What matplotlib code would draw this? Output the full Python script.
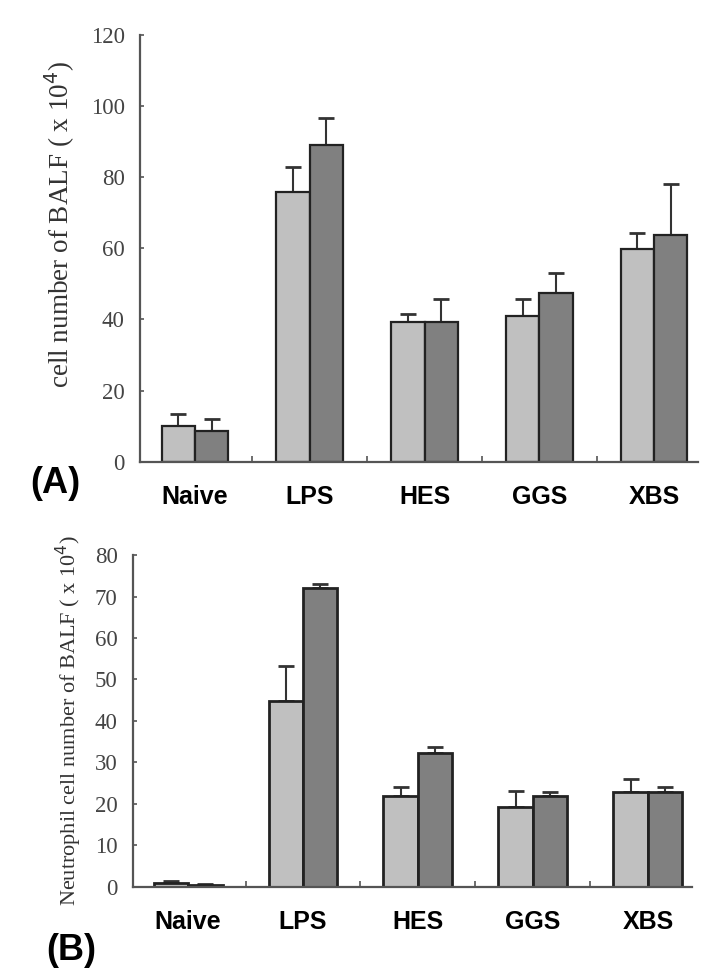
import matplotlib.pyplot as plt
import numpy as np

# Dữ liệu
groups = ['Naive', 'LPS', 'HES', 'GGS', 'XBS']

# (A) tổng số tế bào
a_light = [10.0, 75.8, 39.2, 41.0, 59.7]
a_light_err = [3.3, 7.0, 2.2, 4.7, 4.5]
a_dark = [8.6, 89.1, 39.2, 47.4, 63.9]
a_dark_err = [3.5, 7.7, 6.5, 5.6, 14.1]

# (B) bạch cầu trung tính
b_light = [0.8, 44.8, 22.0, 19.3, 22.9]
b_light_err = [0.6, 8.5, 2.1, 3.9, 3.0]
b_dark = [0.5, 72.0, 32.2, 22.0, 22.9]
b_dark_err = [0.1, 1.0, 1.6, 0.9, 1.2]

light_color = '#c0c0c0'
dark_color = '#808080'
axis_color = '#555555'

fig = plt.figure(figsize=(7.25, 9.74), dpi=100)
ax1 = fig.add_axes([0.1931, 0.526, 0.7697, 0.438])
ax2 = fig.add_axes([0.1834, 0.0896, 0.771, 0.3405])

x = np.arange(len(groups))


def draw_panel(ax, light, light_err, dark, dark_err, width, lw, ylim, yticks,
               ylabel, ylabel_size, tick_size):
    ax.bar(x - width / 2, light, width, color=light_color, edgecolor='#222222',
           linewidth=lw, zorder=2)
    ax.bar(x + width / 2, dark, width, color=dark_color, edgecolor='#222222',
           linewidth=lw, zorder=2)
    ax.errorbar(x - width / 2, light, yerr=[np.zeros(len(light)), light_err],
                fmt='none', ecolor='#333333', elinewidth=1.5, capsize=6,
                capthick=2, zorder=1)
    ax.errorbar(x + width / 2, dark, yerr=[np.zeros(len(dark)), dark_err],
                fmt='none', ecolor='#333333', elinewidth=1.5, capsize=6,
                capthick=2, zorder=1)
    ax.set_xlim(-0.479, 4.383)
    ax.set_ylim(*ylim)
    ax.set_yticks(yticks)
    ax.set_yticklabels([str(t) for t in yticks], family='Liberation Serif',
                       fontsize=tick_size, color='#444444')
    ax.tick_params(axis='y', direction='in', length=3, width=1.2,
                   color=axis_color, pad=11)
    # vạch chia giữa các nhóm
    ax.set_xticks(x[:-1] + 0.5)
    ax.set_xticklabels([])
    ax.tick_params(axis='x', which='major', direction='in', length=4,
                   width=1.2, color=axis_color)
    ax.set_xticks(x, minor=True)
    ax.set_xticklabels(groups, minor=True, fontweight='bold',
                       family='Liberation Sans', fontsize=18)
    ax.tick_params(axis='x', which='minor', length=0, pad=17)
    for s in ['top', 'right']:
        ax.spines[s].set_visible(False)
    for s in ['left', 'bottom']:
        ax.spines[s].set_color(axis_color)
        ax.spines[s].set_linewidth(1.6)
    ax.set_ylabel(ylabel, family='Liberation Serif', fontsize=ylabel_size,
                  color='#333333')


draw_panel(ax1, a_light, a_light_err, a_dark, a_dark_err, 0.29, 1.6,
           (0, 120), list(range(0, 121, 20)),
           'cell number of BALF ( x 10$^4$)', 19.5, 16.5)
ax1.yaxis.set_label_coords(-0.113, 0.557)

draw_panel(ax2, b_light, b_light_err, b_dark, b_dark_err, 0.30, 2.0,
           (0, 80), list(range(0, 81, 10)),
           'Neutrophil cell number of BALF ( x 10$^4$)', 16, 16.5)
ax2.yaxis.set_label_coords(-0.088, 0.5)

fig.text(55 / 725, 1 - 483 / 974, '(A)', fontsize=26, fontweight='bold',
         family='Liberation Sans', ha='center', va='center')
fig.text(71 / 725, 1 - 950 / 974, '(B)', fontsize=26, fontweight='bold',
         family='Liberation Sans', ha='center', va='center')

fig.savefig('out.png', dpi=100)
